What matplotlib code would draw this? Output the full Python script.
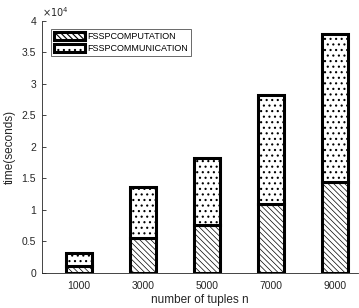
import matplotlib
matplotlib.use("Agg")
import matplotlib.pyplot as plt
import numpy as np

plt.rcParams['font.family'] = ['Liberation Sans', 'DejaVu Sans']

categories = ['1000', '3000', '5000', '7000', '9000']
computation = [1100, 5500, 7600, 11000, 14500]
communication = [2150, 8100, 10600, 17200, 23400]
ytick_values = [0, 5000, 10000, 15000, 20000, 25000, 30000, 35000, 40000]
ytick_labels = ['0', '0.5', '1', '1.5', '2', '2.5', '3', '3.5', '4']

fig = plt.figure(figsize=(3.59, 3.08), dpi=100)
ax = fig.add_axes([0.1162, 0.1136, 0.997 - 0.1162, 0.9328 - 0.1136])

x = np.arange(1, len(categories) + 1)
w = 0.41
plt.rcParams['hatch.linewidth'] = 0.5
b1 = ax.bar(x, computation, w, color='white', edgecolor='black', linewidth=2.2,
            hatch='\\' * 6, label='FSSPCOMPUTATION', zorder=2)
plt.rcParams['hatch.linewidth'] = 0.8
b2 = ax.bar(x, communication, w, bottom=computation, color='white', edgecolor='black',
            linewidth=2.2, hatch='...', label='FSSPCOMMUNICATION', zorder=2)

gray = '#262626'
ax.set_xlim(0.418, 5.354)
ax.set_ylim(0, 40000)
ax.set_xticks(x)
ax.set_xticklabels(categories)
ax.set_yticks(ytick_values)
ax.set_yticklabels(ytick_labels)
ax.tick_params(axis='both', direction='in', length=3, width=0.6, colors=gray,
               labelsize=7.5, pad=4)
ax.tick_params(axis='x', pad=6)
for s in ['top', 'right']:
    ax.spines[s].set_visible(False)
for s in ['left', 'bottom']:
    ax.spines[s].set_color(gray)
    ax.spines[s].set_linewidth(0.6)

ax.set_xlabel('number of tuples n', fontsize=8.5, color=gray, labelpad=2)
ax.set_ylabel('time(seconds)', fontsize=8.5, color=gray, labelpad=4)
ax.text(0.0, 1.005, r'$\times10^4$', transform=ax.transAxes, fontsize=7,
        color=gray, ha='left', va='bottom')

leg = ax.legend(loc='upper left', bbox_to_anchor=(0.029, 0.967), borderaxespad=0,
                fontsize=6.5, frameon=True, fancybox=False, handlelength=3.4,
                handleheight=1.0, labelspacing=0.25, handletextpad=0.3,
                borderpad=0.35)
leg.get_frame().set_edgecolor(gray)
leg.get_frame().set_linewidth(0.6)

fig.savefig('out.png', dpi=100)
